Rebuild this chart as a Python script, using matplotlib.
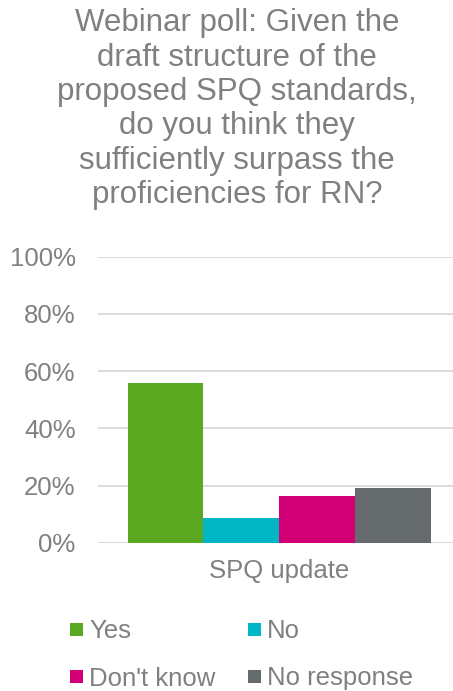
import matplotlib.pyplot as plt
from matplotlib.patches import Rectangle

plt.rcParams['font.family'] = ['Liberation Sans', 'DejaVu Sans']

# data
category = 'SPQ update'
answers = ['Yes', 'No', "Don't know", 'No response']
shares = [0.557, 0.087, 0.163, 0.190]
colors = ['#5aa81f', '#00b6c4', '#d10074', '#656b6d']

text_color = '#808080'
grid_color = '#d9d9d9'

W, H = 453, 691
fig = plt.figure(figsize=(W / 100, H / 100), dpi=100)
ax = fig.add_axes([0.216, 0.2146, 0.784, 0.4139])

width = 0.2
offsets = [-1.5, -0.5, 0.5, 1.5]
for i, (ans, val, col) in enumerate(zip(answers, shares, colors)):
    ax.bar(offsets[i] * width, val, width=width, color=col, label=ans, zorder=3)

ax.set_ylim(0, 1)
ax.set_xlim(-0.479, 0.459)
ax.set_yticks([0, 0.2, 0.4, 0.6, 0.8, 1.0])
ax.set_yticklabels(['0%', '20%', '40%', '60%', '80%', '100%'])
ax.set_xticks([0])
ax.set_xticklabels([category])
ax.tick_params(axis='both', length=0, colors=text_color)
ax.tick_params(axis='y', labelsize=18.5, pad=16)
ax.tick_params(axis='x', labelsize=18.5, pad=12)
ax.yaxis.grid(True, color=grid_color, linewidth=1.3, zorder=0)
ax.set_axisbelow(True)
for s in ax.spines.values():
    s.set_visible(False)
ax.axhline(0, color=grid_color, linewidth=1.3, zorder=1)

fig.text(0.523, 0.988,
         'Webinar poll: Given the\ndraft structure of the\nproposed SPQ standards,\n'
         'do you think they\nsufficiently surpass the\nproficiencies for RN?',
         ha='center', va='top', fontsize=22.5, color=text_color, linespacing=1.19)

# legend drawn by hand, two rows of two
leg_x = [70, 248]
leg_y = [629, 676]
for i, (ans, col) in enumerate(zip(answers, colors)):
    x = leg_x[i % 2]
    y = leg_y[i // 2]
    fig.patches.append(Rectangle((x / W, (H - y - 6.5) / H), 13 / W, 13 / H,
                                 transform=fig.transFigure, facecolor=col,
                                 edgecolor='none'))
    fig.text((x + 19) / W, (H - y) / H, ans, ha='left', va='center_baseline',
             fontsize=18.5, color=text_color)

fig.savefig('out.png', dpi=100)
